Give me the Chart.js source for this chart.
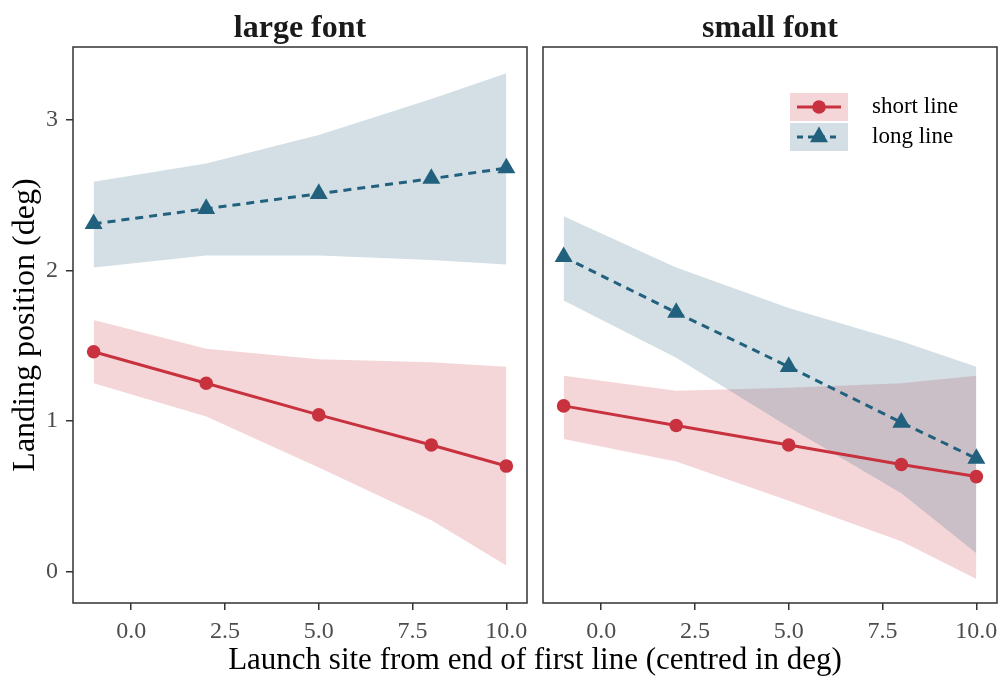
<!DOCTYPE html>
<html>
<head>
<meta charset="utf-8">
<script src="https://cdn.jsdelivr.net/npm/chart.js@4/dist/chart.umd.min.js"></script>
<style>
  html, body { margin: 0; padding: 0; background: #fff; }
  #wrap { position: relative; width: 1001px; height: 678px; overflow: hidden; }
  canvas { position: absolute; top: 0; }
  #left { left: 0; }
  #right { left: 530px; }
  #xtitle {
    position: absolute; left: 73px; width: 924px; top: 641px;
    text-align: center; font: 31px "Liberation Serif", "Times New Roman", serif;
    line-height: 36px; color: #000; white-space: nowrap;
  }
</style>
</head>
<body>
<div id="wrap">
  <canvas id="left" width="530" height="678"></canvas>
  <canvas id="right" width="471" height="678"></canvas>
  <div id="xtitle">Launch site from end of first line (centred in deg)</div>
</div>
<script>
// Launch sites (x) shared by both facets
const launchSites = [-1, 2, 5, 8, 10];
const xTickValues = [0, 2.5, 5, 7.5, 10];
const yTickValues = [0, 1, 2, 3];
const facetNames = ['large font', 'small font'];
const seriesNames = ['short line', 'long line'];

// "large font" facet: estimates and ribbon bounds
const largeShort   = [1.46, 1.25, 1.04, 0.84, 0.70];
const largeShortLo = [1.25, 1.03, 0.69, 0.34, 0.04];
const largeShortHi = [1.67, 1.48, 1.41, 1.39, 1.36];
const largeLong    = [2.31, 2.41, 2.51, 2.61, 2.68];
const largeLongLo  = [2.02, 2.10, 2.10, 2.07, 2.04];
const largeLongHi  = [2.59, 2.71, 2.90, 3.14, 3.31];

// "small font" facet
const smallShort   = [1.10, 0.97, 0.84, 0.71, 0.63];
const smallShortLo = [0.88, 0.73, 0.47, 0.20, -0.05];
const smallShortHi = [1.30, 1.20, 1.22, 1.25, 1.30];
const smallLong    = [2.09, 1.72, 1.36, 0.99, 0.75];
const smallLongLo  = [1.80, 1.42, 0.96, 0.52, 0.12];
const smallLongHi  = [2.36, 2.02, 1.75, 1.53, 1.36];

const RED = '#C8323F';
const BLUE = '#22617E';
const RED_FILL = 'rgba(200, 50, 63, 0.2)';
const BLUE_FILL = 'rgba(34, 97, 126, 0.2)';
const SERIF = '"Liberation Serif", "Times New Roman", serif';
const FRAME = '#333333';
const TICK_TEXT = '#4D4D4D';
const TRI_R = 10.4;
const DOT_R = 6.8;

const pts = (ys) => launchSites.map((x, i) => ({ x: x, y: ys[i] }));

function buildDatasets(s) {
  const band = (ys, fill, color) => ({
    data: pts(ys), borderWidth: 0, pointRadius: 0, pointHoverRadius: 0,
    fill: fill, backgroundColor: color, borderColor: 'rgba(0,0,0,0)'
  });
  return [
    { label: seriesNames[1], data: pts(s.long), borderColor: BLUE, backgroundColor: BLUE,
      borderWidth: 3, borderDash: [8, 6], pointStyle: 'triangle', pointRadius: TRI_R,
      pointBorderWidth: 0, fill: false },
    { label: seriesNames[0], data: pts(s.short), borderColor: RED, backgroundColor: RED,
      borderWidth: 3, pointStyle: 'circle', pointRadius: DOT_R, pointBorderWidth: 0, fill: false },
    band(s.longHi, '+1', BLUE_FILL),
    band(s.longLo, false, 'rgba(0,0,0,0)'),
    band(s.shortHi, '+1', RED_FILL),
    band(s.shortLo, false, 'rgba(0,0,0,0)')
  ];
}

// Panel frame and facet strip label
const panelPlugin = {
  id: 'panelFrame',
  afterDatasetsDraw(chart, args, opts) {
    const a = chart.chartArea, ctx = chart.ctx;
    ctx.save();
    ctx.strokeStyle = FRAME;
    ctx.lineWidth = 1.5;
    ctx.strokeRect(a.left, a.top, a.right - a.left, a.bottom - a.top);
    ctx.fillStyle = '#1a1a1a';
    ctx.font = 'bold 32px ' + SERIF;
    ctx.textAlign = 'center';
    ctx.textBaseline = 'alphabetic';
    ctx.fillText(opts.strip, (a.left + a.right) / 2, 37);
    ctx.restore();
  }
};

// Legend drawn inside the "small font" panel
const legendPlugin = {
  id: 'ribbonLegend',
  afterDraw(chart, args, opts) {
    if (!opts.show) return;
    const ctx = chart.ctx;
    const x0 = 260, w = 58, h = 28;
    const rows = [
      { y: 93, fill: RED_FILL, color: RED, dash: [], shape: 'circle', text: seriesNames[0] },
      { y: 123, fill: BLUE_FILL, color: BLUE, dash: [6, 5], shape: 'triangle', text: seriesNames[1] }
    ];
    ctx.save();
    rows.forEach(r => {
      const cy = r.y + h / 2, cx = x0 + w / 2;
      ctx.fillStyle = r.fill;
      ctx.fillRect(x0, r.y, w, h);
      ctx.strokeStyle = r.color;
      ctx.lineWidth = 3;
      ctx.setLineDash(r.dash);
      ctx.beginPath();
      ctx.moveTo(x0 + 7, cy);
      ctx.lineTo(x0 + w - 7, cy);
      ctx.stroke();
      ctx.setLineDash([]);
      ctx.fillStyle = r.color;
      ctx.beginPath();
      if (r.shape === 'circle') {
        ctx.arc(cx, cy, DOT_R, 0, Math.PI * 2);
      } else {
        ctx.moveTo(cx, cy - TRI_R);
        ctx.lineTo(cx + TRI_R * 0.866, cy + TRI_R / 2);
        ctx.lineTo(cx - TRI_R * 0.866, cy + TRI_R / 2);
        ctx.closePath();
      }
      ctx.fill();
      ctx.fillStyle = '#000';
      ctx.font = '23px ' + SERIF;
      ctx.textAlign = 'left';
      ctx.textBaseline = 'middle';
      ctx.fillText(r.text, 342, cy);
    });
    ctx.restore();
  }
};

function makeChart(id, series, strip, showY, showLegend, padding) {
  return new Chart(document.getElementById(id), {
    type: 'line',
    data: { datasets: buildDatasets(series) },
    plugins: [panelPlugin, legendPlugin],
    options: {
      responsive: false,
      animation: false,
      devicePixelRatio: 1,
      layout: { padding: padding, autoPadding: false },
      elements: { line: { tension: 0 } },
      plugins: {
        legend: { display: false },
        tooltip: { enabled: false },
        filler: { drawTime: 'beforeDatasetsDraw' },
        panelFrame: { strip: strip },
        ribbonLegend: { show: showLegend }
      },
      scales: {
        x: {
          type: 'linear', min: -1.55, max: 10.55,
          afterBuildTicks: (sc) => { sc.ticks = xTickValues.map(v => ({ value: v })); },
          afterFit: (sc) => { sc.height = 75; sc.paddingLeft = 0; sc.paddingRight = 0; },
          border: { display: false },
          grid: { drawOnChartArea: false, drawTicks: true, tickLength: 7, color: FRAME, lineWidth: 1.5 },
          ticks: {
            color: TICK_TEXT, padding: 7, maxRotation: 0, autoSkip: false,
            font: { family: SERIF, size: 24 },
            callback: (v) => Number(v).toFixed(1)
          }
        },
        y: {
          display: showY,
          type: 'linear', min: -0.21, max: 3.485,
          afterBuildTicks: (sc) => { sc.ticks = yTickValues.map(v => ({ value: v })); },
          afterFit: (sc) => { sc.width = showY ? 73 : 0; sc.paddingTop = 0; sc.paddingBottom = 0; },
          border: { display: false },
          grid: { drawOnChartArea: false, drawTicks: true, tickLength: 7, color: FRAME, lineWidth: 1.5 },
          ticks: {
            color: TICK_TEXT, padding: 8,
            font: { family: SERIF, size: 24 },
            callback: (v) => String(v)
          },
          title: {
            display: true, text: 'Landing position (deg)', color: '#000',
            font: { family: SERIF, size: 32 }, padding: { top: 6, bottom: 0 }
          }
        }
      }
    }
  });
}

makeChart('left', {
  short: largeShort, shortLo: largeShortLo, shortHi: largeShortHi,
  long: largeLong, longLo: largeLongLo, longHi: largeLongHi
}, facetNames[0], true, false, { top: 47, right: 3, left: 0, bottom: 0 });

makeChart('right', {
  short: smallShort, shortLo: smallShortLo, shortHi: smallShortHi,
  long: smallLong, longLo: smallLongLo, longHi: smallLongHi
}, facetNames[1], false, true, { top: 47, right: 4, left: 13, bottom: 0 });
</script>
</body>
</html>
